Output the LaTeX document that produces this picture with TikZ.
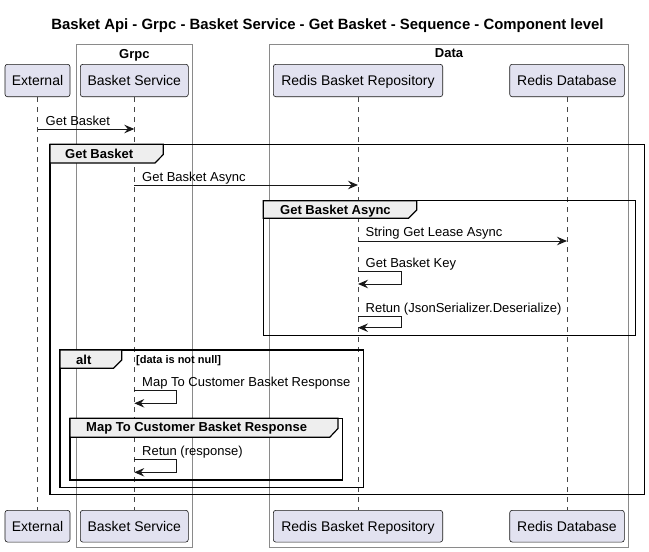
\documentclass[tikz,border=0pt]{standalone}
\usepackage{fontspec}
\setmainfont{Liberation Sans}
\usetikzlibrary{arrows.meta}
\definecolor{partfill}{HTML}{E2E2F0}
\definecolor{ink}{HTML}{181818}
\definecolor{tabfill}{HTML}{EEEEEE}
\definecolor{boxline}{HTML}{8A8A8A}
\tikzset{
  part/.style={draw=ink, fill=partfill, rounded corners=2.5pt, line width=0.6pt, inner sep=0pt,
    minimum height=32.4pt, text height=11.5pt, text depth=1.5pt, font=\fontsize{14}{16}\selectfont},
  lifeline/.style={draw=ink!80, dash pattern=on 5pt off 5pt, line width=0.5pt},
  grpbox/.style={draw=boxline, line width=0.8pt},
  grplabel/.style={font=\bfseries\fontsize{13}{15}\selectfont, inner sep=0pt, anchor=base},
  frameline/.style={draw=black, line width=1.5pt},
  tabshape/.style={draw=black, fill=tabfill, line width=1.2pt},
  framelabel/.style={font=\bfseries\fontsize{13}{15}\selectfont, inner sep=0pt, anchor=base west},
  msglabel/.style={font=\fontsize{13}{15}\selectfont, inner sep=0pt, anchor=base west},
  msg/.style={draw=ink, line width=0.9pt, -{Stealth[length=10pt, width=8.5pt, inset=3.5pt]}},
}
\begin{document}
\begin{tikzpicture}[x=1pt, y=-1pt]
\useasboundingbox (0,0) rectangle (649,552);

% title
\node[font=\bfseries\fontsize{14.9}{17}\selectfont, inner sep=0pt, anchor=base] (title) at (327.5,29.5)
  {Basket Api - Grpc - Basket Service - Get Basket - Sequence - Component level};

% boxes
\draw[grpbox] (76.5,44.3) rectangle (192.3,547.5);
\node[grplabel] (grpclbl) at (134.4,58) {Grpc};
\draw[grpbox] (269.3,44.3) rectangle (628.7,547.5);
\node[grplabel] (datalbl) at (449,57.5) {Data};

% participants top
\node[part, minimum width=65pt] (ext) at (37.5,80.5) {External};
\node[part, minimum width=108pt] (bs) at (134.3,80.5) {Basket Service};
\node[part, minimum width=169.4pt] (rbr) at (358,80.5) {Redis Basket Repository};
\node[part, minimum width=114.6pt] (rdb) at (567,80.5) {Redis Database};
% participants bottom
\node[part, minimum width=65pt, minimum height=31.7pt] (ext2) at (37.5,526.2) {External};
\node[part, minimum width=108pt, minimum height=31.7pt] (bs2) at (134.3,526.2) {Basket Service};
\node[part, minimum width=169.4pt, minimum height=31.7pt] (rbr2) at (358,526.2) {Redis Basket Repository};
\node[part, minimum width=114.6pt, minimum height=31.7pt] (rdb2) at (567,526.2) {Redis Database};

% lifelines
\draw[lifeline] (ext.south) -- (ext2.north);
\draw[lifeline] (bs.south) -- (bs2.north);
\draw[lifeline] (rbr.south) -- (rbr2.north);
\draw[lifeline] (rdb.south) -- (rdb2.north);

% frames
\draw[frameline] (50,144.3) rectangle (644.5,494.3);
\draw[tabshape] (50,144.3) -- (163.3,144.3) -- (163.3,154.5) -- (155,163) -- (50,163) -- cycle;
\node[framelabel] (f1) at (65,158.5) {Get Basket};

\draw[frameline] (263.3,200.7) rectangle (635.5,335.7);
\draw[tabshape] (263.3,200.7) -- (416.7,200.7) -- (416.7,210) -- (408.5,218.3) -- (263.3,218.3) -- cycle;
\node[framelabel] (f2) at (280,214) {Get Basket Async};

\draw[frameline] (60,350) rectangle (363.3,487.5);
\draw[tabshape] (60,350) -- (121.7,350) -- (121.7,360) -- (113.5,368.3) -- (60,368.3) -- cycle;
\node[framelabel] (f3) at (76,364.5) {alt};
\node[font=\bfseries\fontsize{11}{13}\selectfont, inner sep=0pt, anchor=base west] (f3g) at (136,363) {[data is not null]};

\draw[frameline] (70,418.3) rectangle (342.7,480);
\draw[tabshape] (70,418.3) -- (338,418.3) -- (338,428.5) -- (329.7,437.3) -- (70,437.3) -- cycle;
\node[framelabel] (f4) at (86,431.7) {Map To Customer Basket Response};

% message endpoints
\coordinate (m1a) at (ext.south |- 0,129);
\coordinate (m1b) at (bs.south |- 0,129);
\coordinate (m2a) at (bs.south |- 0,185);
\coordinate (m2b) at (rbr.south |- 0,185);
\coordinate (m3a) at (rbr.south |- 0,241);
\coordinate (m3b) at (rdb.south |- 0,241);
\coordinate (m4a) at (rbr.south |- 0,271);
\coordinate (m4b) at (rbr.south |- 0,284);
\coordinate (m5a) at (rbr.south |- 0,316.7);
\coordinate (m5b) at (rbr.south |- 0,327.7);
\coordinate (m6a) at (bs.south |- 0,390.7);
\coordinate (m6b) at (bs.south |- 0,403.3);
\coordinate (m7a) at (bs.south |- 0,459);
\coordinate (m7b) at (bs.south |- 0,472.3);

% messages
\draw[msg] (m1a) -- (m1b);
\node[msglabel] (l1) at (45.5,125) {Get Basket};
\draw[msg] (m2a) -- (m2b);
\node[msglabel] (l2) at (142,181) {Get Basket Async};
\draw[msg] (m3a) -- (m3b);
\node[msglabel] (l3) at (365.5,236.5) {String Get Lease Async};
\draw[msg] (m4a) -- ++(43,0) |- (m4b);
\node[msglabel] (l4) at (365.5,267) {Get Basket Key};
\draw[msg] (m5a) -- ++(43,0) |- (m5b);
\node[msglabel] (l5) at (365.5,312) {Retun (JsonSerializer.Deserialize)};
\draw[msg] (m6a) -- ++(42.4,0) |- (m6b);
\node[msglabel] (l6) at (142,386.5) {Map To Customer Basket Response};
\draw[msg] (m7a) -- ++(42.4,0) |- (m7b);
\node[msglabel] (l7) at (142,455) {Retun (response)};
\end{tikzpicture}
\end{document}
